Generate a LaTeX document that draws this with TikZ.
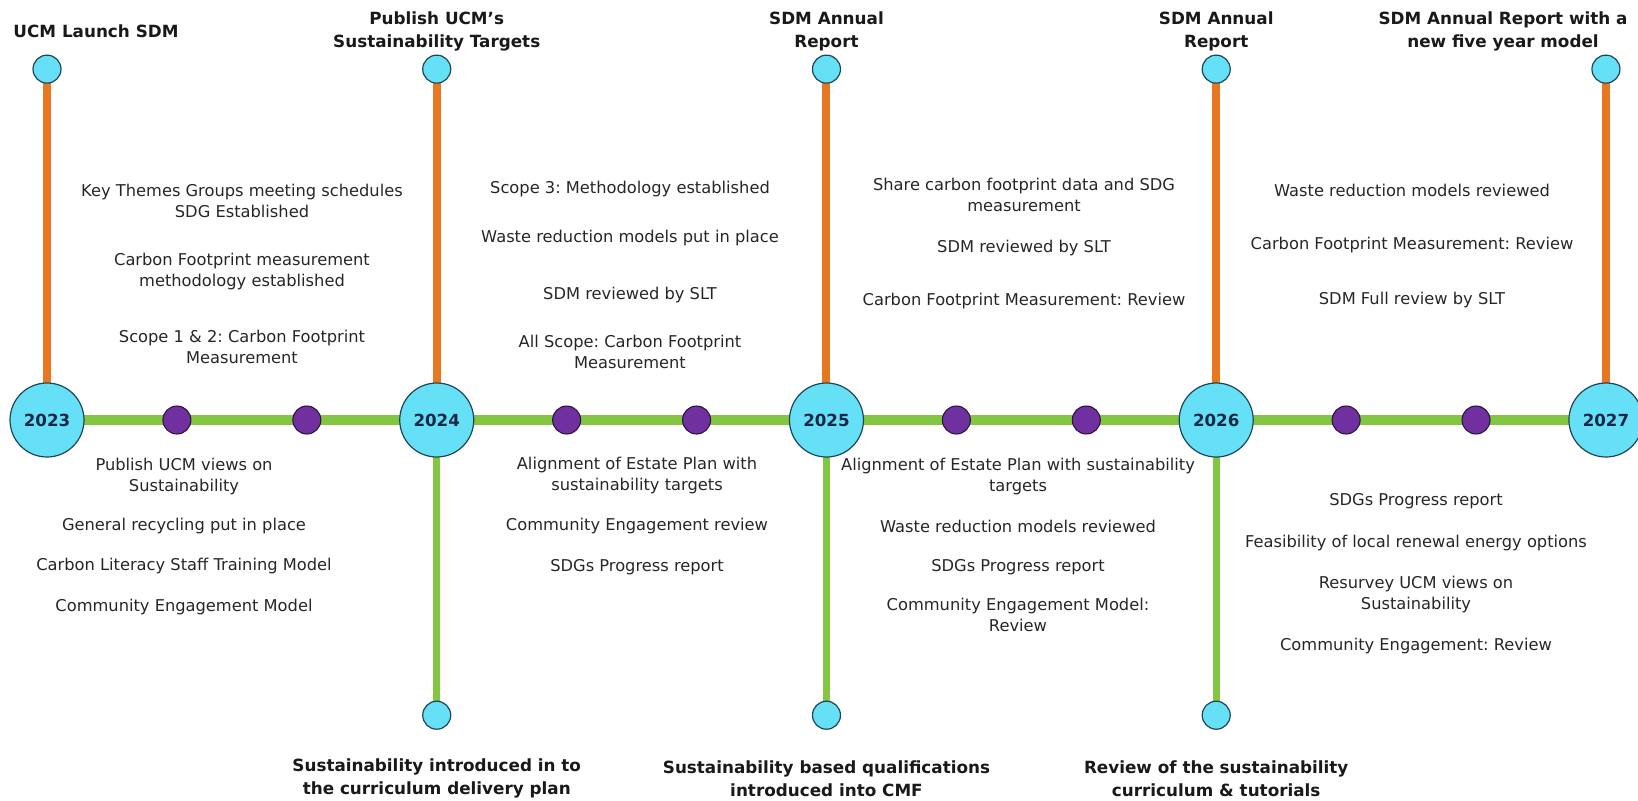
\documentclass[tikz,border=0pt]{standalone}
\usepackage{fontspec}
\setmainfont{DejaVu Sans}
\usetikzlibrary{positioning,backgrounds,calc}

\definecolor{skyfill}{RGB}{102,224,246}
\definecolor{rimline}{RGB}{30,70,85}
\definecolor{milestone}{RGB}{232,119,34}
\definecolor{trackgreen}{RGB}{130,198,66}
\definecolor{dotpurple}{RGB}{112,48,160}
\definecolor{yearink}{RGB}{25,40,70}

\newcommand\notefont{\fontsize{12.2}{15.75}\selectfont}
\newcommand\headfont{\fontsize{12.6}{17.25}\selectfont\bfseries}
\frenchspacing

\begin{document}
\begin{tikzpicture}[x=0.75pt, y=-0.75pt,
  yearcirc/.style={circle, draw=rimline, line width=0.9pt, fill=skyfill, minimum size=55.5pt, inner sep=0pt,
    font=\fontsize{12.5}{14}\selectfont\bfseries, text=yearink},
  endcirc/.style={circle, draw=rimline, line width=0.9pt, fill=skyfill, minimum size=21pt, inner sep=0pt},
  smalldot/.style={circle, draw=black!60!dotpurple, line width=0.8pt, fill=dotpurple, minimum size=21pt, inner sep=0pt},
  headtext/.style={align=center, font=\headfont, text=black!90, inner sep=0pt},
  notetext/.style={align=center, font=\notefont, text=black!85, inner sep=0pt},
  track/.style={trackgreen, line width=7.5pt},
  upline/.style={milestone, line width=6pt},
  downline/.style={trackgreen, line width=5.5pt}]
  \useasboundingbox (0,0) rectangle (1638,800);

  % years on the main line
  \node[yearcirc] (y2023) at (47,420) {2023};
  \node[yearcirc, right=235.9pt of y2023] (y2024) {2024};
  \node[yearcirc, right=235.9pt of y2024] (y2025) {2025};
  \node[yearcirc, right=235.9pt of y2025] (y2026) {2026};
  \node[yearcirc, right=235.9pt of y2026] (y2027) {2027};

  \node[smalldot] (d1) at ($(y2023)!1/3!(y2024)$) {};
  \node[smalldot] (d2) at ($(y2023)!2/3!(y2024)$) {};
  \node[smalldot] (d3) at ($(y2024)!1/3!(y2025)$) {};
  \node[smalldot] (d4) at ($(y2024)!2/3!(y2025)$) {};
  \node[smalldot] (d5) at ($(y2025)!1/3!(y2026)$) {};
  \node[smalldot] (d6) at ($(y2025)!2/3!(y2026)$) {};
  \node[smalldot] (d7) at ($(y2026)!1/3!(y2027)$) {};
  \node[smalldot] (d8) at ($(y2026)!2/3!(y2027)$) {};

  \node[endcirc, above=224pt of y2023] (t2023) {};
  \node[endcirc, above=224pt of y2024] (t2024) {};
  \node[endcirc, above=224pt of y2025] (t2025) {};
  \node[endcirc, above=224pt of y2026] (t2026) {};
  \node[endcirc, above=224pt of y2027] (t2027) {};
  \node[endcirc, below=182.25pt of y2024] (b2024) {};
  \node[endcirc, below=182.25pt of y2025] (b2025) {};
  \node[endcirc, below=182.25pt of y2026] (b2026) {};

  % milestone titles
  \node[headtext] (h2023) at (96,31) {UCM Launch SDM};
  \node[headtext] (h2024) at (t2024 |- 0,31) {Publish UCM’s\\Sustainability Targets};
  \node[headtext] (h2025) at (t2025 |- 0,31) {SDM Annual\\Report};
  \node[headtext] (h2026) at (t2026 |- 0,31) {SDM Annual\\Report};
  \node[headtext] (h2027) at (1503,31) {SDM Annual Report with a\\new five year model};
  \node[headtext] (f2024) at (b2024 |- 0,778.5) {Sustainability introduced in to\\the curriculum delivery plan};
  \node[headtext] (f2025) at (b2025 |- 0,778.5) {Sustainability based qualifications\\introduced into CMF};
  \node[headtext] (f2026) at (b2026 |- 0,778.5) {Review of the sustainability\\curriculum \& tutorials};

  % notes above the line
  \node[notetext] (a1) at (242,201) {Key Themes Groups meeting schedules\\SDG Established};
  \node[notetext] (a2) at (242,271.5) {Carbon Footprint measurement\\methodology established};
  \node[notetext] (a3) at (242,346.5) {Scope 1 \& 2: Carbon Footprint\\Measurement};
  \node[notetext] (a4) at (630,189) {Scope 3: Methodology established};
  \node[notetext] (a5) at (630,238) {Waste reduction models put in place};
  \node[notetext] (a6) at (630,295) {SDM reviewed by SLT};
  \node[notetext] (a7) at (630,351.5) {All Scope: Carbon Footprint\\Measurement};
  \node[notetext] (a8) at (1024,195) {Share carbon footprint data and SDG\\measurement};
  \node[notetext] (a9) at (1024,248) {SDM reviewed by SLT};
  \node[notetext] (a10) at (1024,301) {Carbon Footprint Measurement: Review};
  \node[notetext] (a11) at (1412,190) {Waste reduction models reviewed};
  \node[notetext] (a12) at (1412,245) {Carbon Footprint Measurement: Review};
  \node[notetext] (a13) at (1412,300) {SDM Full review by SLT};

  % notes below the line
  \node[notetext] (c1) at (184,476.5) {Publish UCM views on\\Sustainability};
  \node[notetext] (c2) at (184,526) {General recycling put in place};
  \node[notetext] (c3) at (184,566) {Carbon Literacy Staff Training Model};
  \node[notetext] (c4) at (184,607) {Community Engagement Model};
  \node[notetext] (c5) at (637,475.5) {Alignment of Estate Plan with\\sustainability targets};
  \node[notetext] (c6) at (637,526) {Community Engagement review};
  \node[notetext] (c7) at (637,567) {SDGs Progress report};
  \node[notetext] (c8) at (1018,477) {Alignment of Estate Plan with sustainability\\targets};
  \node[notetext] (c9) at (1018,526) {Waste reduction models reviewed};
  \node[notetext] (c10) at (1018,567) {SDGs Progress report};
  \node[notetext] (c11) at (1018,615) {Community Engagement Model:\\Review};
  \node[notetext] (c12) at (1416,501) {SDGs Progress report};
  \node[notetext] (c13) at (1416,543) {Feasibility of local renewal energy options};
  \node[notetext] (c14) at (1416,595) {Resurvey UCM views on\\Sustainability};
  \node[notetext] (c15) at (1416,646) {Community Engagement: Review};

  \begin{scope}[on background layer]
    \draw[track] (y2023.center) -- (y2027.center);
    \draw[upline] (t2023.center) -- (y2023.center);
    \draw[upline] (t2024.center) -- (y2024.center);
    \draw[upline] (t2025.center) -- (y2025.center);
    \draw[upline] (t2026.center) -- (y2026.center);
    \draw[upline] (t2027.center) -- (y2027.center);
    \draw[downline] (y2024.center) -- (b2024.center);
    \draw[downline] (y2025.center) -- (b2025.center);
    \draw[downline] (y2026.center) -- (b2026.center);
  \end{scope}
\end{tikzpicture}
\end{document}
